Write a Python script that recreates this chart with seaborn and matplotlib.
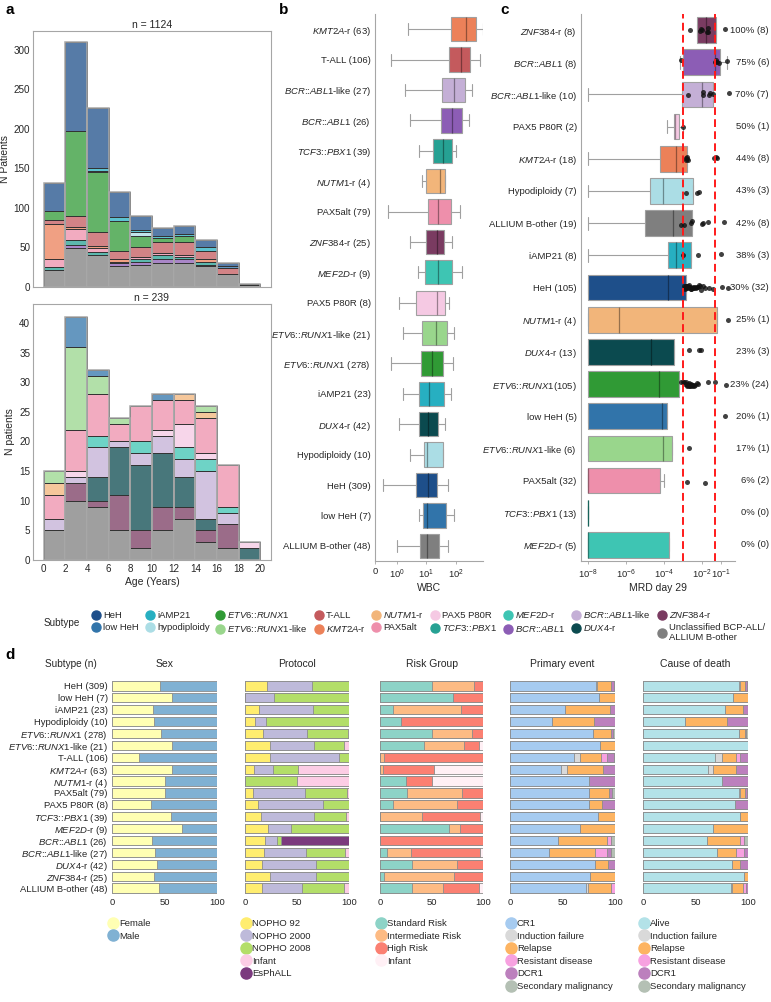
import re
import numpy as np
import pandas as pd
import matplotlib
matplotlib.use("Agg")
import matplotlib.pyplot as plt
import seaborn as sns
from matplotlib.lines import Line2D
from matplotlib.transforms import blended_transform_factory

# ---------------- subtypes and colours ----------------
SUBTYPES = ["HeH", "low HeH", "iAMP21", "hypodiploidy", "ETV6::RUNX1", "ETV6::RUNX1-like",
            "T-ALL", "KMT2A-r", "NUTM1-r", "PAX5alt", "PAX5 P80R", "TCF3::PBX1", "MEF2D-r",
            "BCR::ABL1", "BCR::ABL1-like", "DUX4-r", "ZNF384-r", "Unclassified"]
SUBTYPE_COLORS = ["#1e4f8a", "#3174aa", "#27afc1", "#abdde5", "#309a35", "#99d68c",
                  "#c45a5d", "#ec8159", "#f2b57a", "#ee8fab", "#f5c9e3", "#26a193", "#3ec5b3",
                  "#8c5db5", "#c4afd6", "#0b4a4f", "#7a3b61", "#7f7f7f"]
LEGEND_NAMES = SUBTYPES[:-1] + ["Unclassified BCP-ALL/\nALLIUM B-other"]

# ---------------- panel a: age histograms ----------------
AGE_EDGES = [0, 2, 4, 6, 8, 10, 12, 14, 16, 18, 20]
AGE_MID = [1, 3, 5, 7, 9, 11, 13, 15, 17, 19]

ALL_HEH = [35, 113, 76, 32, 18, 10, 10, 9, 5, 2]
ALL_LOWHEH = [0, 0, 0, 0, 0, 0, 0, 0, 2, 0]
ALL_IAMP21 = [0, 0, 3, 5, 3, 3, 2, 5, 0, 0]
ALL_HYPO = [0, 0, 2, 0, 4, 0, 0, 1, 0, 0]
ALL_ETV6 = [11, 107, 76, 37, 15, 5, 8, 0, 0, 0]
ALL_TALL = [5, 14, 17, 11, 12, 14, 16, 10, 8, 0]
ALL_KMT2A = [44, 3, 3, 3, 0, 0, 0, 3, 0, 0]
ALL_PAX5ALT = [11, 13, 5, 0, 2, 2, 3, 0, 0, 0]
ALL_TCF3 = [4, 7, 3, 2, 4, 6, 3, 4, 0, 0]
ALL_BCRABL = [0, 4, 0, 3, 4, 5, 5, 2, 0, 0]
ALL_OTHER = [21, 49, 41, 27, 28, 30, 30, 26, 16, 2]

BO_LOWHEH = [0, 5, 1, 0, 0, 1, 0, 0, 0, 0]
BO_ETV6LIKE = [2, 14, 3, 1, 0, 0, 0, 1, 0, 0]
BO_NUTM1 = [2, 0, 0, 0, 0, 0, 1, 1, 0, 0]
BO_PAX5ALT = [4, 7, 7, 3, 6, 5, 4, 6, 7, 0]
BO_P80R = [0, 1, 0, 0, 0, 1, 4, 1, 0, 1]
BO_MEF2D = [0, 0, 2, 0, 2, 0, 2, 2, 1, 0]
BO_BCRLIKE = [2, 1, 5, 1, 2, 3, 3, 8, 2, 0]
BO_DUX4 = [0, 0, 4, 8, 11, 9, 5, 2, 0, 2]
BO_ZNF384 = [0, 3, 1, 6, 3, 4, 2, 2, 4, 0]
BO_OTHER = [5, 10, 9, 5, 2, 5, 7, 3, 2, 0]

ALL_COUNTS = {"HeH": ALL_HEH, "low HeH": ALL_LOWHEH, "iAMP21": ALL_IAMP21,
              "hypodiploidy": ALL_HYPO, "ETV6::RUNX1": ALL_ETV6, "T-ALL": ALL_TALL,
              "KMT2A-r": ALL_KMT2A, "PAX5alt": ALL_PAX5ALT, "TCF3::PBX1": ALL_TCF3,
              "BCR::ABL1": ALL_BCRABL, "Unclassified": ALL_OTHER}
BO_COUNTS = {"low HeH": BO_LOWHEH, "ETV6::RUNX1-like": BO_ETV6LIKE, "NUTM1-r": BO_NUTM1,
             "PAX5alt": BO_PAX5ALT, "PAX5 P80R": BO_P80R, "MEF2D-r": BO_MEF2D,
             "BCR::ABL1-like": BO_BCRLIKE, "DUX4-r": BO_DUX4, "ZNF384-r": BO_ZNF384,
             "Unclassified": BO_OTHER}

# ---------------- panel b: WBC (whisker low, q1, median, q3, whisker high) ----------------
B_LABELS = ["KMT2A-r (63)", "T-ALL (106)", "BCR::ABL1-like (27)", "BCR::ABL1 (26)",
            "TCF3::PBX1 (39)", "NUTM1-r (4)", "PAX5alt (79)", "ZNF384-r (25)", "MEF2D-r (9)",
            "PAX5 P80R (8)", "ETV6::RUNX1-like (21)", "ETV6::RUNX1 (278)", "iAMP21 (23)",
            "DUX4-r (42)", "Hypodiploidy (10)", "HeH (309)", "low HeH (7)", "ALLIUM B-other (48)"]
B_KEYS = ["KMT2A-r", "T-ALL", "BCR::ABL1-like", "BCR::ABL1", "TCF3::PBX1", "NUTM1-r", "PAX5alt",
          "ZNF384-r", "MEF2D-r", "PAX5 P80R", "ETV6::RUNX1-like", "ETV6::RUNX1", "iAMP21",
          "DUX4-r", "hypodiploidy", "HeH", "low HeH", "Unclassified"]
B_STATS = [[2.5, 68, 214, 464, 795], [0.75, 58, 147, 295, 631], [2.0, 34, 86, 200, 340],
           [2.9, 32, 74, 158, 272], [5.8, 17, 37, 74, 100], [7.4, 10, 29, 43, 43],
           [0.6, 11, 25, 68, 136], [2.9, 10, 23, 40, 74], [5.4, 9.2, 25, 74, 158],
           [1.2, 4.6, 23, 43, 58], [1.7, 7.4, 21.5, 50, 86], [0.75, 6.8, 16, 37, 80],
           [1.7, 5.8, 12.6, 40, 68], [1.2, 5.8, 11.7, 25, 43], [2.9, 8.6, 10.8, 37, 37],
           [0.35, 4.6, 11.7, 23, 54], [5.8, 7.9, 10.8, 46, 86], [1.0, 6.3, 10.8, 27, 54]]

# ---------------- panel c: MRD day 29 (log10 values) ----------------
C_LABELS = ["ZNF384-r (8)", "BCR::ABL1 (8)", "BCR::ABL1-like (10)", "PAX5 P80R (2)",
            "KMT2A-r (18)", "Hypodiploidy (7)", "ALLIUM B-other (19)", "iAMP21 (8)", "HeH (105)",
            "NUTM1-r (4)", "DUX4-r (13)", "ETV6::RUNX1(105)", "low HeH (5)",
            "ETV6::RUNX1-like (6)", "PAX5alt (32)", "TCF3::PBX1 (13)", "MEF2D-r (5)"]
C_KEYS = ["ZNF384-r", "BCR::ABL1", "BCR::ABL1-like", "PAX5 P80R", "KMT2A-r", "hypodiploidy",
          "Unclassified", "iAMP21", "HeH", "NUTM1-r", "DUX4-r", "ETV6::RUNX1", "low HeH",
          "ETV6::RUNX1-like", "PAX5alt", "TCF3::PBX1", "MEF2D-r"]
C_STATS = [[-2.26, -2.26, -1.79, -1.26, -1.26], [-3.16, -3.0, -1.32, -1.05, -0.68],
           [-8, -3.05, -2.0, -1.42, -1.42], [-3.84, -3.47, -3.42, -3.21, -3.0],
           [-8, -4.21, -3.37, -2.79, -2.79], [-8, -4.74, -4.05, -2.47, -2.47],
           [-8, -5.0, -3.53, -2.53, -2.53], [-8, -3.79, -3.37, -2.58, -2.58],
           [-8, -8, -3.79, -2.84, -2.84], [-8, -8, -6.37, -1.21, -1.21],
           [-8, -8, -4.68, -3.47, -3.47], [-8, -8, -4.26, -3.21, -3.21],
           [-8, -8, -4.1, -3.84, -3.84], [-8, -8, -4.05, -3.58, -3.58],
           [-8, -8, -8, -4.21, -4.0], [-8, -8, -8, -8, -8], [-8, -8, -8, -3.74, -3.74]]
C_DOTS = [[-2.63, -2.12, -2.05, -2.0, -1.76, -1.7, -1.66, -0.79],
          [-3.1, -1.33, -1.25, -1.2, -1.08, -0.7],
          [-2.72, -1.97, -1.95, -1.62, -1.58, -1.4, -0.6],
          [-3.02],
          [-2.86, -2.83, -2.8, -2.79, -2.76, -1.34, -1.27, -1.2],
          [-2.86, -2.24, -2.17],
          [-3.1, -2.93, -2.6, -2.54, -2.02, -1.93, -1.67, -0.83],
          [-2.98, -2.19, -1.02],
          [-2.93, -2.91, -2.88, -2.86, -2.84, -2.83, -2.8, -2.77, -2.75, -2.71, -2.69,
           -2.66, -2.62, -2.6, -2.57, -2.52, -2.48, -2.45, -2.41, -2.36, -2.3, -2.27,
           -2.21, -2.16, -2.1, -2.04, -1.96, -1.84, -1.63, -1.43, -0.97, -0.63],
          [-0.62],
          [-2.67, -2.14, -2.03],
          [-3.08, -3.02, -2.96, -2.88, -2.85, -2.81, -2.79, -2.76, -2.72, -2.7, -2.66, -2.63,
           -2.6, -2.57, -2.55, -2.5, -2.47, -2.42, -2.36, -2.27, -2.2, -1.68, -1.32, -0.71],
          [-0.8], [-2.68], [-2.77, -1.85], [], []]
C_PCT = ["100% (8)", "75% (6)", "70% (7)", "50% (1)", "44% (8)", "43% (3)", "42% (8)",
         "38% (3)", "30% (32)", "25% (1)", "23% (3)", "23% (24)", "20% (1)", "17% (1)",
         "6% (2)", "0% (0)", "0% (0)"]
MRD_CUTS = [1e-3, 5e-2]

# ---------------- panel d: clinical characteristics (%) ----------------
D_LABELS = ["HeH (309)", "low HeH (7)", "iAMP21 (23)", "Hypodiploidy (10)", "ETV6::RUNX1 (278)",
            "ETV6::RUNX1-like (21)", "T-ALL (106)", "KMT2A-r (63)", "NUTM1-r (4)", "PAX5alt (79)",
            "PAX5 P80R (8)", "TCF3::PBX1 (39)", "MEF2D-r (9)", "BCR::ABL1 (26)",
            "BCR::ABL1-like (27)", "DUX4-r (42)", "ZNF384-r (25)", "ALLIUM B-other (48)"]

SEX_FEMALE = [46, 57, 39, 40, 47, 57, 26, 57, 50, 50, 37, 56, 67, 38, 41, 43, 40, 45]
SEX_MALE = [54, 43, 61, 60, 53, 43, 74, 43, 50, 50, 63, 44, 33, 62, 59, 57, 60, 55]

PROT_92 = [21, 0, 13, 10, 17, 24, 24, 9, 0, 8, 12.5, 15, 22, 19, 18, 16, 24, 16]
PROT_2000 = [43, 28, 52, 10, 43, 42, 66, 18, 0, 50, 62.5, 51, 22, 12, 41, 52, 44, 39]
PROT_2008 = [36, 72, 35, 80, 39, 29, 10, 24, 50, 40, 25, 31, 56, 4, 37, 32, 32, 40]
PROT_INF = [0, 0, 0, 0, 1, 5, 0, 49, 50, 2, 0, 3, 0, 0, 4, 0, 0, 5]
PROT_ESPH = [0, 0, 0, 0, 0, 0, 0, 0, 0, 0, 0, 0, 0, 65, 0, 0, 0, 0]

RISK_SR = [50, 71, 13, 20, 50, 43, 0, 0, 25, 26, 12.5, 0, 67, 0, 7, 31, 4, 31]
RISK_IR = [41, 0, 66, 0, 39, 39, 4, 3, 0, 54, 62.5, 41, 11, 0, 23, 44, 68, 30]
RISK_HR = [9, 29, 21, 80, 11, 14.5, 96, 49, 25, 20, 25, 56, 22, 100, 67, 25, 28, 35]
RISK_INF = [0, 0, 0, 0, 0, 3.5, 0, 48, 50, 0, 0, 3, 0, 0, 3, 0, 0, 4]

EV_CR1 = [82, 85, 52, 40, 79, 86, 61, 49, 75, 75.5, 75, 84, 67, 46, 37, 81, 76, 72]
EV_IF = [1, 0, 0, 0, 0.5, 0, 6, 5, 0, 0, 0, 0, 0, 0, 0, 0, 0, 2]
EV_REL = [13, 15, 43, 40, 17, 14, 20, 35, 0, 19, 12.5, 16, 33, 46, 44, 12, 24, 22]
EV_RES = [0.5, 0, 0, 0, 0, 0, 5, 0, 0, 0, 0, 0, 0, 4, 11, 0, 0, 4]
EV_DCR1 = [2.5, 0, 5, 20, 1.5, 0, 7, 11, 25, 3, 12.5, 0, 0, 0, 4, 7, 0, 0]
EV_SM = [1, 0, 0, 0, 2, 0, 1, 0, 0, 2.5, 0, 0, 0, 4, 4, 0, 0, 0]

CD_ALIVE = [91.5, 86, 78, 40, 91.5, 100, 69, 62, 75, 91, 87.5, 92, 67, 61, 70, 85, 96, 84]
CD_IF = [0.5, 0, 0, 0, 0, 0, 6, 5, 0, 1, 0, 0, 0, 0, 0, 0, 0, 1]
CD_REL = [5.5, 14, 17, 40, 5.5, 0, 14, 22, 0, 5, 0, 8, 33, 31, 19, 7, 4, 10]
CD_RES = [0, 0, 0, 0, 0, 0, 3, 0, 0, 0, 0, 0, 0, 4, 7, 0, 0, 3]
CD_DCR1 = [1.5, 0, 5, 20, 1.5, 0, 8, 11, 25, 2, 12.5, 0, 0, 0, 4, 8, 0, 2]
CD_SM = [1, 0, 0, 0, 1.5, 0, 0, 0, 0, 1, 0, 0, 0, 4, 0, 0, 0, 0]

SEX_NAMES = ["Female", "Male"]
PROT_NAMES = ["NOPHO 92", "NOPHO 2000", "NOPHO 2008", "Infant", "EsPhALL"]
RISK_NAMES = ["Standard Risk", "Intermediate Risk", "High Risk", "Infant"]
EVENT_NAMES = ["CR1", "Induction failure", "Relapse", "Resistant disease", "DCR1",
               "Secondary malignancy"]
DEATH_NAMES = ["Alive", "Induction failure", "Relapse", "Resistant disease", "DCR1",
               "Secondary malignancy"]
SEX_COLORS = ["#ffffb3", "#80b1d3"]
PROT_COLORS = ["#ffed6f", "#bebada", "#b3de69", "#fccde5", "#7b3a7e"]
RISK_COLORS = ["#8dd3c7", "#fdbb84", "#fb8072", "#fff0f5"]
EVENT_COLORS = ["#a6cbf0", "#d9d9d9", "#fdb462", "#f7a1e0", "#bc80bd", "#b4c0b4"]
DEATH_COLORS = ["#b3e2e8", "#d9d9d9", "#fdb462", "#f7a1e0", "#bc80bd", "#b4c0b4"]

# ---------------- style ----------------
sns.set_theme(style="white")
plt.rcParams["font.family"] = ["Liberation Sans", "DejaVu Sans"]
plt.rcParams["mathtext.fontset"] = "custom"
plt.rcParams["mathtext.rm"] = "Liberation Sans"
plt.rcParams["mathtext.it"] = "Liberation Sans:italic"
plt.rcParams["mathtext.bf"] = "Liberation Sans:bold"
TXT = "#262626"
SPINE = "#a6a6a6"
FS = 6.8      # small text
FL = 7.5      # axis labels / titles
GENES = r"(ETV6|RUNX1|KMT2A|NUTM1|TCF3|PBX1|MEF2D|BCR|ABL1|DUX4|ZNF384)"


def tex(s):
    return re.sub(GENES, lambda m: r"$\mathit{" + m.group(1) + "}$", s)


COLOR_OF = dict(zip(SUBTYPES, SUBTYPE_COLORS))
W, H = 771, 1002
fig = plt.figure(figsize=(W / 100, H / 100), dpi=100)


def px_axes(l, t, r, b):
    return fig.add_axes([l / W, 1 - b / H, (r - l) / W, (b - t) / H])


# ---------------- panel a ----------------
def age_hist(ax, counts, ymax, yticks, title, ylabel):
    rows = []
    for st, vals in counts.items():
        for mid, n in zip(AGE_MID, vals):
            rows.append({"age": mid, "subtype": st, "n": n})
    df = pd.DataFrame(rows)
    order = [s for s in SUBTYPES if s in counts]
    sns.histplot(data=df, x="age", weights="n", hue="subtype", hue_order=order,
                 palette=COLOR_OF, multiple="stack", bins=AGE_EDGES, edgecolor="#333333",
                 linewidth=0.7, legend=False, ax=ax)
    totals = df.groupby("age")["n"].sum()
    sns.histplot(x=totals.index, weights=totals.values, bins=AGE_EDGES, fill=False,
                 color="#a8a8a8", linewidth=1.1, ax=ax)
    ax.set_xlim(-1, 21)
    ax.set_ylim(0, ymax)
    ax.set_yticks(yticks)
    ax.set_title(title, fontsize=FL, pad=2, color=TXT)
    ax.set_ylabel(ylabel, fontsize=FL, color=TXT, labelpad=3)
    ax.tick_params(axis="y", labelsize=FS + 0.3, colors=TXT, length=0, pad=2)
    for sp in ax.spines.values():
        sp.set_color(SPINE)
        sp.set_linewidth(0.8)


ax_a1 = px_axes(33, 31, 271, 287)
age_hist(ax_a1, ALL_COUNTS, 324, range(0, 301, 50), "n = 1124", "N Patients")
ax_a1.set_xticks([])
ax_a1.set_xlabel("")

ax_a2 = px_axes(33, 304, 271, 560)
age_hist(ax_a2, BO_COUNTS, 43.2, range(0, 41, 5), "n = 239", "N patients")
ax_a2.set_xticks(AGE_EDGES)
ax_a2.tick_params(axis="x", labelsize=FS + 0.3, colors=TXT, length=0, pad=3)
ax_a2.set_xlabel("Age (Years)", fontsize=FL, color=TXT, labelpad=2)


# ---------------- box helpers ----------------
def tidy_boxes(ax):
    for cont in ax.containers:
        if not hasattr(cont, "medians"):
            continue
        for box, med in zip(cont.boxes, cont.medians):
            fc = np.array(box.get_facecolor()[:3])
            med.set_color(tuple(fc * 0.62))
            med.set_linewidth(0.9)


def style_cat_axis(ax):
    sns.despine(ax=ax)
    ax.spines["left"].set_color(SPINE)
    ax.spines["bottom"].set_color(SPINE)
    ax.spines["left"].set_linewidth(0.8)
    ax.spines["bottom"].set_linewidth(0.8)
    ax.tick_params(axis="y", labelsize=FS, colors=TXT, length=0, pad=3)
    ax.tick_params(axis="x", labelsize=FS, colors=TXT, length=2.5, width=0.6,
                   color=SPINE, bottom=True, pad=2)
    ax.set_ylabel("")


# ---------------- panel b ----------------
b_rows = [{"lab": tex(lab), "wbc": v} for lab, vals in zip(B_LABELS, B_STATS) for v in vals]
b_df = pd.DataFrame(b_rows)
b_order = [tex(l) for l in B_LABELS]
b_pal = {tex(l): COLOR_OF[k] for l, k in zip(B_LABELS, B_KEYS)}
ax_b = px_axes(375, 14, 483, 561)
sns.boxplot(data=b_df, x="wbc", y="lab", order=b_order, hue="lab", hue_order=b_order,
            palette=b_pal, saturation=1, width=0.8, whis=(0, 100), showfliers=False,
            linecolor="#a0a0a0", linewidth=0.8, legend=False, ax=ax_b)
tidy_boxes(ax_b)
ax_b.set_xscale("symlog", linthresh=1, linscale=0.65)
ax_b.set_xlim(0, 800)
ax_b.set_xticks([0, 1, 10, 100])
ax_b.set_xticklabels(["0", r"$10^{0}$", r"$10^{1}$", r"$10^{2}$"])
ax_b.xaxis.set_minor_locator(matplotlib.ticker.NullLocator())
style_cat_axis(ax_b)
ax_b.set_xlabel("WBC", fontsize=FL, color=TXT, labelpad=2)

# ---------------- panel c ----------------
c_order = [tex(l) for l in C_LABELS]
c_rows = [{"lab": tex(lab), "mrd": 10.0 ** v} for lab, vals in zip(C_LABELS, C_STATS) for v in vals]
c_df = pd.DataFrame(c_rows)
c_dots = pd.DataFrame([{"lab": tex(lab), "mrd": 10.0 ** v}
                       for lab, vals in zip(C_LABELS, C_DOTS) for v in vals])
c_pal = {tex(l): COLOR_OF[k] for l, k in zip(C_LABELS, C_KEYS)}
ax_c = px_axes(581, 14, 735, 561)
sns.boxplot(data=c_df, x="mrd", y="lab", order=c_order, hue="lab", hue_order=c_order,
            palette=c_pal, saturation=1, width=0.8, whis=(0, 100), showfliers=False,
            linecolor="#a0a0a0", linewidth=0.8, legend=False, log_scale=True, ax=ax_c)
tidy_boxes(ax_c)
np.random.seed(3)
sns.stripplot(data=c_dots, x="mrd", y="lab", order=c_order, color="#111111", size=3.6,
              alpha=0.8, jitter=0.08, linewidth=0, ax=ax_c)
for cut in MRD_CUTS:
    ax_c.axvline(cut, color="#ff1a1a", lw=1.4, ls=(0, (4, 2.2)), zorder=5)
ax_c.set_xlim(10 ** -8.37, 10 ** -0.26)
ax_c.set_xticks([1e-8, 1e-6, 1e-4, 1e-2, 1e-1])
ax_c.set_xticklabels([r"$10^{-8}$", r"$10^{-6}$", r"$10^{-4}$", r"$10^{-2}$", r"$10^{-1}$"])
ax_c.xaxis.set_minor_locator(matplotlib.ticker.NullLocator())
style_cat_axis(ax_c)
ax_c.set_xlabel("MRD day 29", fontsize=FL, color=TXT, labelpad=2)
tr = blended_transform_factory(fig.transFigure, ax_c.transData)
for i, s in enumerate(C_PCT):
    ax_c.text(769 / W, i, s, transform=tr, ha="right", va="center", fontsize=FS, color=TXT)

# ---------------- subtype legend ----------------
handles = [Line2D([], [], marker="o", ls="", color=c, markersize=6.5) for c in SUBTYPE_COLORS]
fig.legend(handles, [tex(n) for n in LEGEND_NAMES], ncol=9, loc="upper left",
           bbox_to_anchor=(92 / W, 1 - 609 / H), frameon=False, fontsize=FS,
           handletextpad=0.3, columnspacing=0.7, labelspacing=0.3, handlelength=0.9,
           borderpad=0, borderaxespad=0, labelcolor=TXT)
fig.text(44 / W, 1 - 623 / H, "Subtype", fontsize=FS + 0.3, color=TXT, va="center")

# ---------------- panel d ----------------
d_specs = [
    ("Sex", (112, 217), [SEX_FEMALE, SEX_MALE], SEX_COLORS, SEX_NAMES),
    ("Protocol", (245, 349), [PROT_92, PROT_2000, PROT_2008, PROT_INF, PROT_ESPH],
     PROT_COLORS, PROT_NAMES),
    ("Risk Group", (380, 483), [RISK_SR, RISK_IR, RISK_HR, RISK_INF], RISK_COLORS, RISK_NAMES),
    ("Primary event", (510, 615), [EV_CR1, EV_IF, EV_REL, EV_RES, EV_DCR1, EV_SM],
     EVENT_COLORS, EVENT_NAMES),
    ("Cause of death", (643, 748), [CD_ALIVE, CD_IF, CD_REL, CD_RES, CD_DCR1, CD_SM],
     DEATH_COLORS, DEATH_NAMES),
]
d_order = [tex(l) for l in D_LABELS]
for j, (title, (l, r), parts, colors, names) in enumerate(d_specs):
    ax = px_axes(l, 680, r, 894)
    cum = np.cumsum(np.array(parts, dtype=float), axis=0)
    for k in reversed(range(len(parts))):
        sns.barplot(x=cum[k], y=d_order, order=d_order, color=colors[k], orient="h",
                    width=0.78, saturation=1, edgecolor="#8c8c8c", linewidth=0.6,
                    errorbar=None, ax=ax)
    ax.set_xlim(0, 100)
    ax.set_xticks([0, 50, 100])
    sns.despine(ax=ax, left=True, bottom=True)
    ax.tick_params(axis="x", labelsize=FS, colors=TXT, length=0, pad=3)
    ax.tick_params(axis="y", labelsize=FS, colors=TXT, length=0, pad=3)
    ax.set_xlabel("")
    ax.set_ylabel("")
    if j > 0:
        ax.set_yticklabels([])
    ax.text(0.5, 1 + 16 / 214, title, transform=ax.transAxes, ha="center", va="center",
            fontsize=FL, color=TXT)
    hs = [Line2D([], [], marker="o", ls="", color=c, markersize=8) for c in colors]
    fig.legend(hs, names, loc="upper left", bbox_to_anchor=((l - 4) / W, 1 - 919 / H),
               frameon=False, fontsize=FS, handletextpad=0.15, labelspacing=0.38,
               handlelength=1.0, borderpad=0, borderaxespad=0, labelcolor=TXT)
fig.text(71 / W, 1 - 664 / H, "Subtype (n)", fontsize=FL - 0.3, color=TXT, ha="center",
         va="center")

# ---------------- panel letters ----------------
for s, x, y in [("a", 5, 10), ("b", 279, 10), ("c", 500, 10), ("d", 5, 655)]:
    fig.text(x / W, 1 - y / H, s, fontsize=11, fontweight="bold", va="center", color="black")

fig.savefig("out.png", dpi=100)
